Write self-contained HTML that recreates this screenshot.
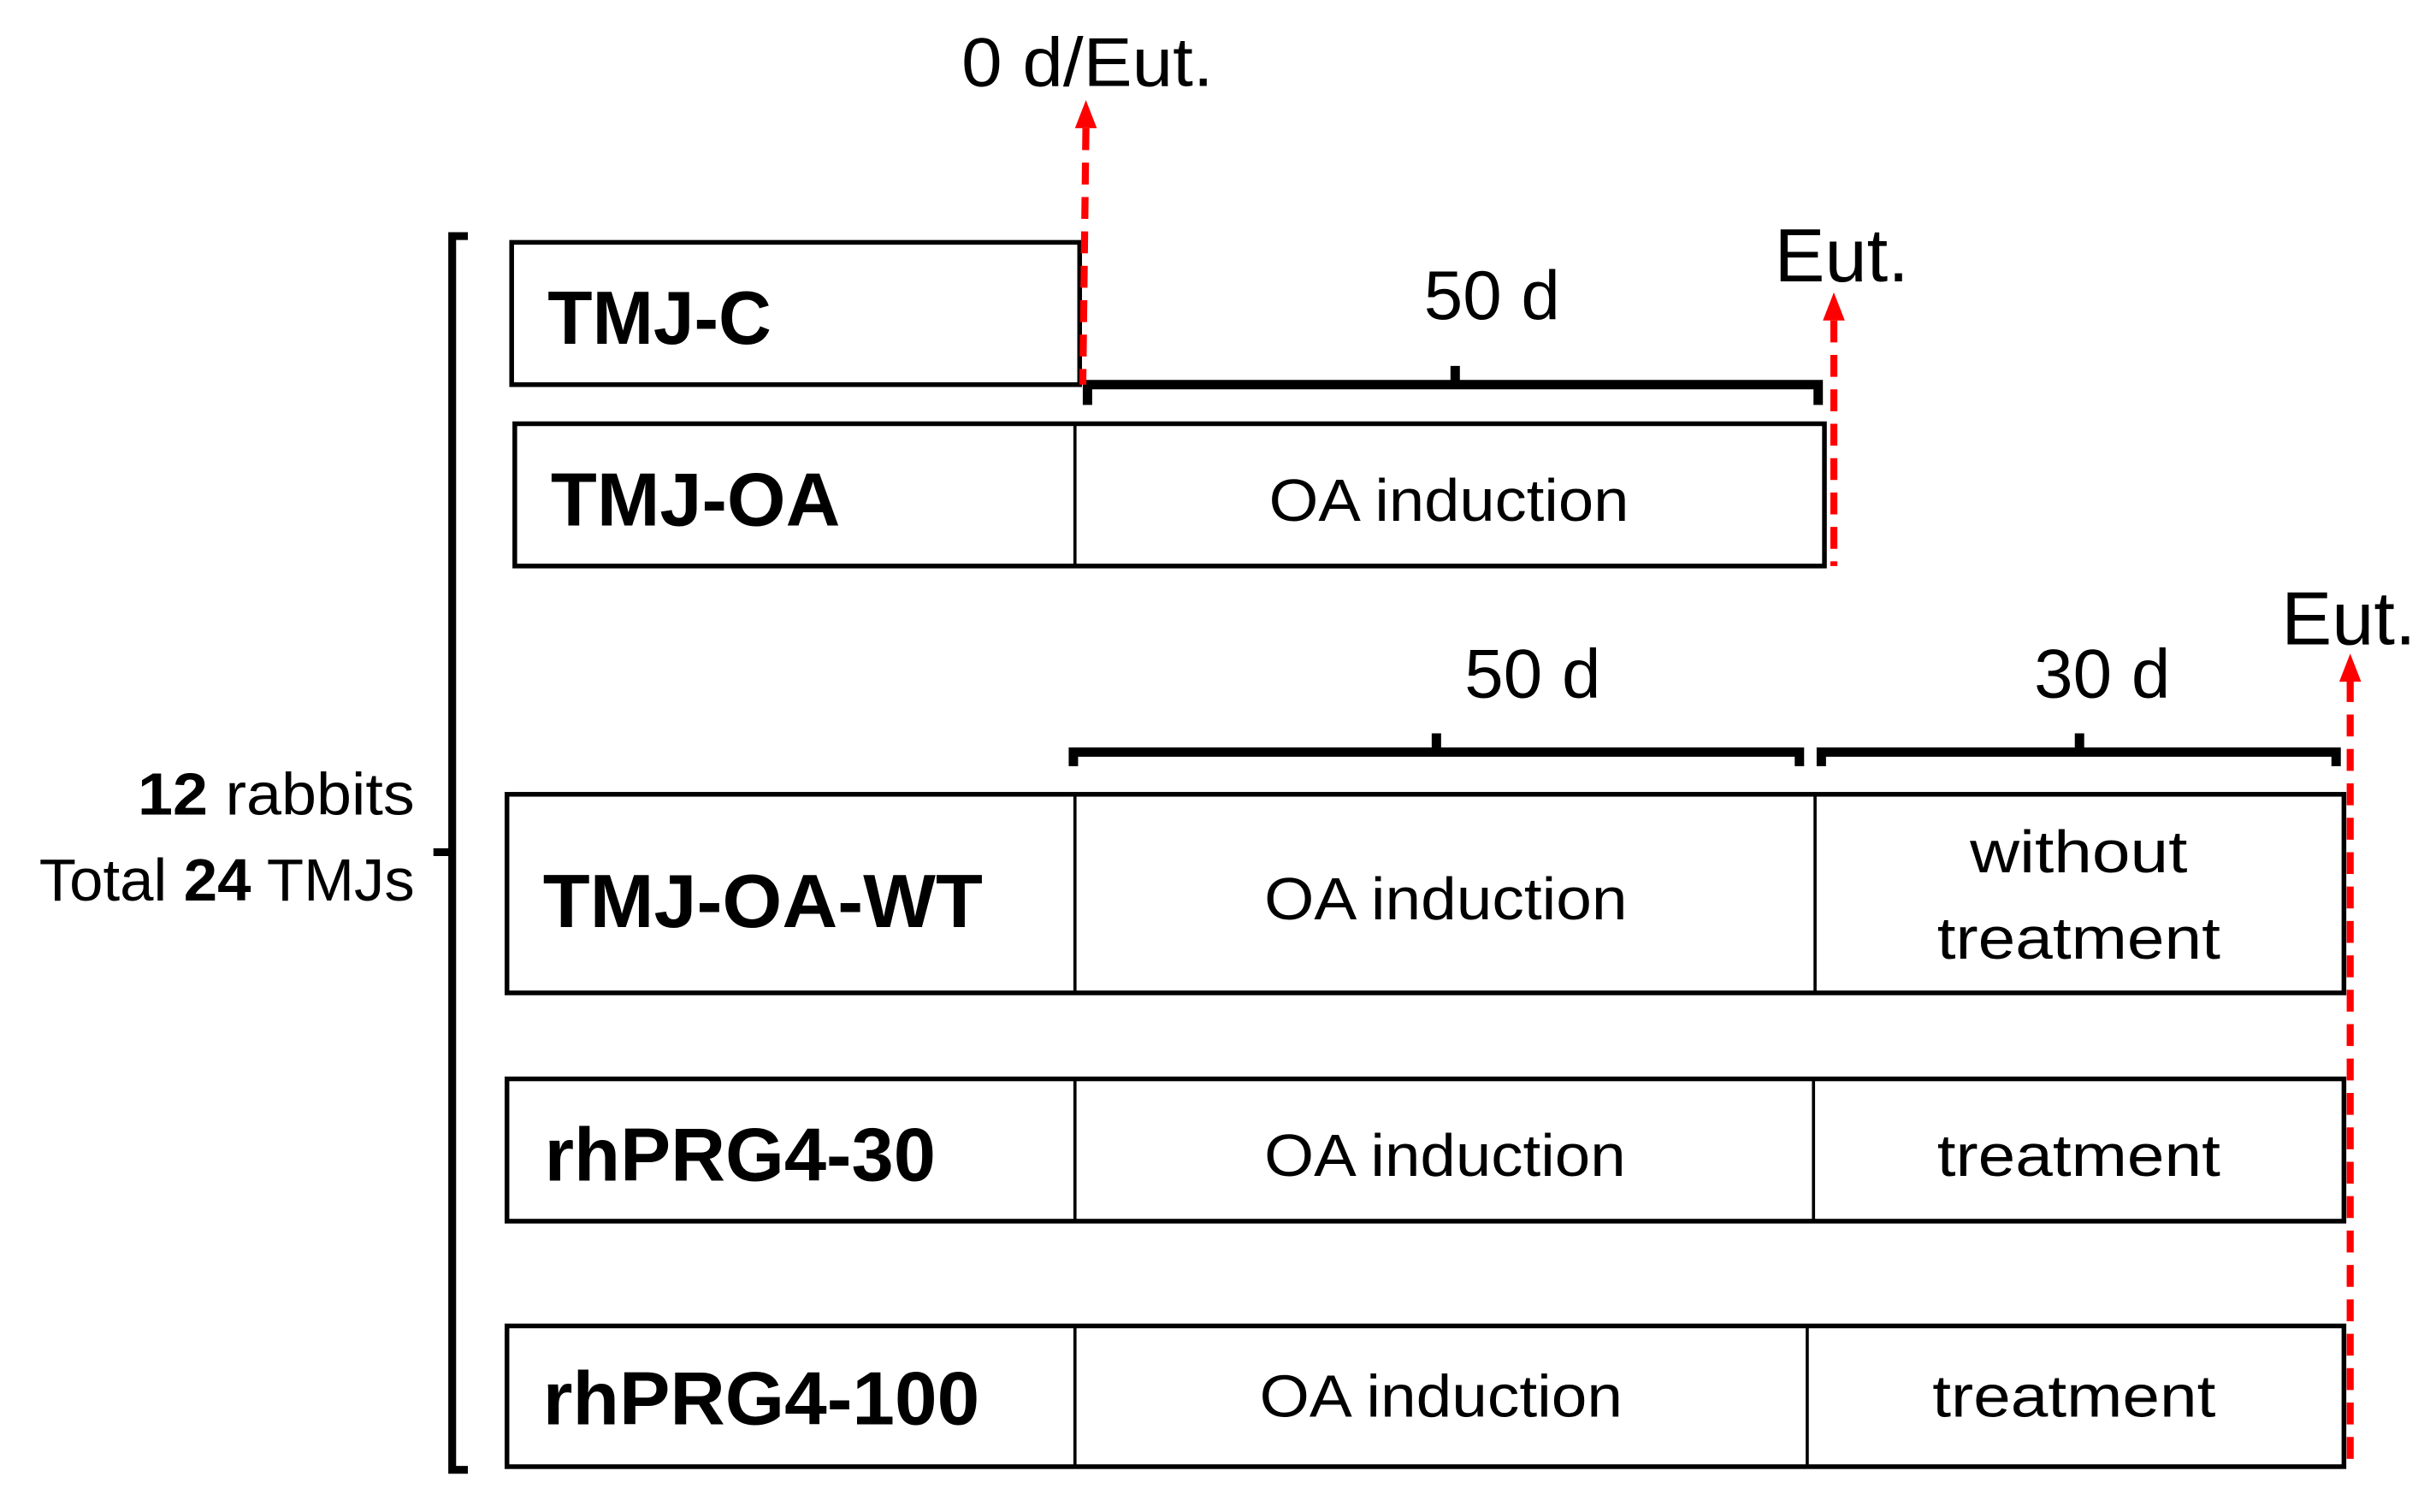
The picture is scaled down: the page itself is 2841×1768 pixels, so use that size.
<!DOCTYPE html>
<html><head><meta charset="utf-8"><style>html,body{margin:0;padding:0;background:#fff}svg{display:block}</style></head>
<body>
<svg width="2841" height="1768" viewBox="0 0 1553 967" preserveAspectRatio="none" xmlns="http://www.w3.org/2000/svg" font-family="'Liberation Sans', sans-serif">
<g fill="none" stroke="#000">
<path d="M299 151 H289 V940 H299" stroke-width="5"/>
<path d="M287 545 H277" stroke-width="5"/>
<rect x="327" y="155" width="363" height="91" stroke-width="3"/>
<rect x="329" y="271" width="837" height="91" stroke-width="3"/>
<line x1="687" y1="271" x2="687" y2="362" stroke-width="2"/>
<rect x="324" y="508" width="1174" height="127" stroke-width="3"/>
<line x1="687" y1="508" x2="687" y2="635" stroke-width="2"/>
<line x1="1160" y1="508" x2="1160" y2="635" stroke-width="2"/>
<rect x="324" y="690" width="1174" height="91" stroke-width="3"/>
<line x1="687" y1="690" x2="687" y2="781" stroke-width="2"/>
<line x1="1159" y1="690" x2="1159" y2="781" stroke-width="2"/>
<rect x="324" y="848" width="1174" height="90" stroke-width="3"/>
<line x1="687" y1="848" x2="687" y2="938" stroke-width="2"/>
<line x1="1155" y1="848" x2="1155" y2="938" stroke-width="2"/>
<path d="M695 259 V246 H1162 V259 M930 246 V234" stroke-width="6"/>
<path d="M686 490 V481 H1150 V490 M918 481 V469" stroke-width="6"/>
<path d="M1164 490 V481 H1493 V490 M1329 481 V469" stroke-width="6"/>
</g>
<g stroke="#f00" stroke-width="4.5" stroke-dasharray="14 8" fill="none">
<line x1="694" y1="82" x2="692" y2="246"/>
<line x1="1172" y1="205" x2="1172" y2="362"/>
<line x1="1502" y1="435" x2="1502" y2="938"/>
</g>
<g fill="#f00">
<polygon points="694,64 687,82 701,82"/>
<polygon points="1172,187 1165,205 1179,205"/>
<polygon points="1502,418 1495,436 1509,436"/>
</g>
<g fill="#000">
<text x="695" y="55" font-size="44" text-anchor="middle" textLength="161" lengthAdjust="spacingAndGlyphs">0 d/Eut.</text>
<text x="1134" y="180" font-size="48" textLength="86" lengthAdjust="spacingAndGlyphs">Eut.</text>
<text x="1458" y="412" font-size="48" textLength="86" lengthAdjust="spacingAndGlyphs">Eut.</text>
<text x="910" y="204" font-size="44" textLength="87" lengthAdjust="spacingAndGlyphs">50 d</text>
<text x="936" y="446" font-size="44" textLength="87" lengthAdjust="spacingAndGlyphs">50 d</text>
<text x="1300" y="446" font-size="44" textLength="87" lengthAdjust="spacingAndGlyphs">30 d</text>
<g font-weight="bold" font-size="48">
<text x="350" y="220" textLength="143" lengthAdjust="spacingAndGlyphs">TMJ-C</text>
<text x="352" y="336" textLength="185" lengthAdjust="spacingAndGlyphs">TMJ-OA</text>
<text x="347" y="593" textLength="281" lengthAdjust="spacingAndGlyphs">TMJ-OA-WT</text>
<text x="348" y="755" textLength="250" lengthAdjust="spacingAndGlyphs">rhPRG4-30</text>
<text x="347" y="911" textLength="279" lengthAdjust="spacingAndGlyphs">rhPRG4-100</text>
</g>
<g font-size="38">
<text x="811" y="333" textLength="230" lengthAdjust="spacingAndGlyphs">OA induction</text>
<text x="808" y="588" textLength="232" lengthAdjust="spacingAndGlyphs">OA induction</text>
<text x="808" y="752" textLength="231" lengthAdjust="spacingAndGlyphs">OA induction</text>
<text x="805" y="906" textLength="232" lengthAdjust="spacingAndGlyphs">OA induction</text>
<text x="1259" y="558" textLength="139" lengthAdjust="spacingAndGlyphs">without</text>
<text x="1238" y="613" textLength="181" lengthAdjust="spacingAndGlyphs">treatment</text>
<text x="1238" y="752" textLength="181" lengthAdjust="spacingAndGlyphs">treatment</text>
<text x="1235" y="906" textLength="181" lengthAdjust="spacingAndGlyphs">treatment</text>
<text x="88" y="521" textLength="177" lengthAdjust="spacingAndGlyphs"><tspan font-weight="bold">12</tspan> rabbits</text>
<text x="25" y="576" textLength="240" lengthAdjust="spacingAndGlyphs">Total <tspan font-weight="bold">24</tspan> TMJs</text>
</g>
</g>
</svg>
</body></html>
